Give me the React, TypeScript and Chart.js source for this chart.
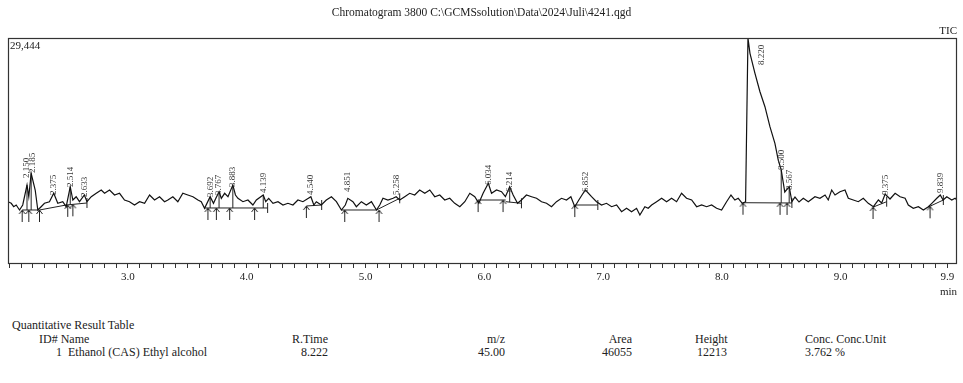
import React, { useEffect, useRef } from 'react';
import { Chart, registerables } from 'chart.js';

Chart.register(...registerables);

const TITLE = 'Chromatogram 3800 C:\\GCMSsolution\\Data\\2024\\Juli\\4241.qgd';
const TRACE_NAME = 'TIC';
const Y_MAX = 29444;
const Y_MAX_LABEL = '29,444';
const X_MIN = 1.99;
const X_MAX = 9.98;
const X_UNIT = 'min';
const TICK_LABELS = ['3.0', '4.0', '5.0', '6.0', '7.0', '8.0', '9.0', '9.9'];

// Retention time (min) and TIC intensity
const TIMES = [
  1.990, 2.017, 2.038, 2.059, 2.087, 2.114, 2.150, 2.165, 2.185, 2.219, 2.241, 2.269, 2.297, 2.339, 2.375,
  2.409, 2.451, 2.480, 2.514, 2.536, 2.564, 2.592, 2.633, 2.655, 2.691, 2.733, 2.775, 2.803, 2.845, 2.887,
  2.929, 2.971, 3.013, 3.055, 3.098, 3.140, 3.182, 3.224, 3.266, 3.308, 3.336, 3.378, 3.420, 3.462, 3.504,
  3.547, 3.589, 3.617, 3.645, 3.692, 3.720, 3.740, 3.767, 3.786, 3.814, 3.842, 3.883, 3.905, 3.926, 3.968,
  4.010, 4.052, 4.081, 4.139, 4.160, 4.185, 4.221, 4.263, 4.305, 4.347, 4.389, 4.431, 4.473, 4.540, 4.565,
  4.586, 4.628, 4.670, 4.713, 4.755, 4.797, 4.830, 4.851, 4.894, 4.923, 4.965, 5.007, 5.050, 5.092, 5.120,
  5.147, 5.189, 5.232, 5.258, 5.288, 5.330, 5.372, 5.414, 5.456, 5.499, 5.541, 5.583, 5.625, 5.667, 5.709,
  5.751, 5.794, 5.836, 5.878, 5.920, 5.954, 5.990, 6.034, 6.061, 6.103, 6.145, 6.178, 6.214, 6.243, 6.280,
  6.313, 6.355, 6.398, 6.440, 6.482, 6.524, 6.566, 6.608, 6.650, 6.692, 6.729, 6.762, 6.796, 6.832, 6.852,
  6.903, 6.945, 6.987, 7.029, 7.072, 7.114, 7.156, 7.198, 7.240, 7.282, 7.310, 7.352, 7.380, 7.409, 7.451,
  7.493, 7.535, 7.577, 7.619, 7.661, 7.703, 7.746, 7.788, 7.830, 7.872, 7.914, 7.956, 7.998, 8.040, 8.077,
  8.110, 8.138, 8.172, 8.200, 8.220, 8.237, 8.279, 8.321, 8.363, 8.405, 8.447, 8.475, 8.500, 8.530, 8.567,
  8.590, 8.616, 8.650, 8.686, 8.728, 8.784, 8.826, 8.869, 8.896, 8.925, 8.953, 8.995, 9.037, 9.065, 9.107,
  9.149, 9.191, 9.233, 9.276, 9.318, 9.346, 9.375, 9.416, 9.459, 9.501, 9.543, 9.570, 9.612, 9.655, 9.697,
  9.739, 9.768, 9.810, 9.839, 9.863, 9.894, 9.936, 9.964, 9.980,
];
const TIC = [
  8022, 7812, 7367, 7590, 6936, 7590, 10207, 8676, 11738, 9553, 6936, 7367, 7812, 8022, 9121,
  7812, 8022, 7367, 9985, 8244, 8676, 8022, 8898, 8022, 8676, 9121, 9553, 9121, 9553, 8898,
  9121, 8244, 8022, 7590, 8022, 7812, 8898, 8244, 8676, 8022, 8244, 8676, 8022, 9121, 8898,
  8676, 8244, 8022, 7158, 8676, 7812, 8467, 9330, 8467, 9121, 8676, 10207, 8898, 8467, 8022,
  8244, 7590, 8244, 8898, 8022, 8467, 7812, 8022, 7590, 7812, 7590, 8244, 8022, 8676, 7590,
  8022, 7590, 8244, 8676, 8022, 6936, 7590, 8467, 8022, 7367, 8022, 7590, 8022, 6936, 7590,
  8467, 8244, 8467, 8676, 8244, 8676, 9121, 8898, 9553, 9121, 9553, 8676, 8898, 8244, 8467,
  7812, 7367, 8022, 9121, 8676, 7812, 9121, 10430, 9121, 9553, 9330, 8676, 9985, 8898, 7812,
  8244, 8898, 8676, 8467, 8022, 7812, 7367, 8022, 8467, 8244, 8676, 7367, 8244, 9121, 9553,
  8676, 8022, 7590, 7812, 7367, 7590, 6713, 7158, 6713, 7158, 6281, 7367, 7158, 7590, 8022,
  8467, 8022, 8467, 8022, 9121, 8467, 8244, 7367, 7590, 7367, 7590, 7158, 6936, 8022, 8898,
  8244, 8467, 7812, 8022, 29444, 27441, 24824, 22416, 20453, 17836, 15664, 13479, 12170, 9291, 9985,
  8022, 8637, 7982, 8467, 8022, 8676, 8467, 8898, 8244, 9553, 8898, 9330, 9553, 8467, 8244,
  8022, 8467, 7812, 7367, 8244, 7852, 9030, 8375, 9121, 8676, 8467, 7590, 7158, 7367, 6936,
  7367, 7812, 8467, 8898, 8244, 8676, 8244, 8467, 8244,
];

// Integration baselines
const BASE_START_T = [2.109, 2.255, 2.480, 3.645, 4.502, 4.797, 5.092, 5.945, 6.180, 6.762, 8.180, 9.276, 9.739];
const BASE_START_C = [6936, 6936, 7590, 7200, 7460, 6936, 6936, 8244, 8022, 7590, 7890, 7330, 7330];
const BASE_END_T = [2.255, 2.480, 2.655, 4.176, 4.631, 5.092, 5.288, 6.180, 6.313, 6.956, 8.590, 9.388, 9.865];
const BASE_END_C = [6936, 7590, 7852, 7200, 7590, 6936, 8467, 8244, 7812, 7590, 7852, 8022, 8244];

// Peak start markers (arrows)
const ARROW_T = [2.109, 2.165, 2.255, 2.493, 2.536, 3.673, 3.744, 3.856, 4.066, 4.502, 4.825, 5.114, 5.948, 6.158, 6.762, 8.178, 8.490, 8.549, 9.273, 9.753];
const ARROW_C = [6936, 6936, 6936, 7610, 7680, 7200, 7200, 7200, 7200, 7460, 6936, 6936, 8244, 8244, 7590, 7890, 7870, 7860, 7330, 7420];

// Peak end markers
const END_T = [2.655, 4.176, 4.631, 5.288, 6.313, 6.956, 8.590, 9.388, 9.865];
const END_C = [7852, 7200, 7590, 8467, 7812, 7590, 7852, 8022, 8244];

// Drop lines
const DROP_T = [2.150, 2.185, 2.514, 3.692, 3.767, 3.883, 4.139, 6.214, 8.500, 8.567];
const DROP_BASE = [6936, 6936, 7640, 7200, 7200, 7200, 7200, 7950, 7870, 7860];
const DROP_TOP = [10207, 11738, 9985, 8676, 9330, 10207, 8898, 9985, 12170, 9985];

// Peak labels
const PEAK_RT = ['2.150', '2.185', '2.375', '2.514', '2.633', '3.692', '3.767', '3.883', '4.139', '4.540',
  '4.851', '5.258', '6.034', '6.214', '6.852', '8.220', '8.500', '8.567', '9.375', '9.839'];
const PEAK_LABEL_T = [2.147, 2.195, 2.373, 2.514, 2.633, 3.692, 3.767, 3.883, 4.139, 4.540,
  4.851, 5.258, 6.040, 6.214, 6.856, 8.338, 8.500, 8.567, 9.375, 9.839];
const PEAK_LABEL_C = [11123, 11777, 8898, 9945, 8637, 8637, 8898, 9945, 9160, 8898,
  9291, 8898, 10207, 9291, 9291, 25910, 12170, 9553, 8898, 9160];

// Quantitative result table
const TABLE_TITLE = 'Quantitative Result Table';
const TABLE_HEAD = ['ID#', 'Name', 'R.Time', 'm/z', 'Area', 'Height', 'Conc.', 'Conc.Unit'];
const TABLE_ROW = ['1', 'Ethanol (CAS) Ethyl alcohol', '8.222', '45.00', '46055', '12213', '3.762', '%'];

const FONT = "'Liberation Serif', 'Times New Roman', serif";
const INK = '#222';

function makeArrow(): HTMLCanvasElement {
  const c = document.createElement('canvas');
  c.width = 9;
  c.height = 30;
  const g = c.getContext('2d')!;
  g.strokeStyle = '#222';
  g.lineWidth = 1;
  g.beginPath();
  g.moveTo(4.5, 15);
  g.lineTo(4.5, 27);
  g.moveTo(1.5, 19);
  g.lineTo(4.5, 15);
  g.lineTo(7.5, 19);
  g.stroke();
  return c;
}

function segments(t1: number[], c1: number[], t2: number[], c2: number[]) {
  const out: { x: number; y: number | null }[] = [];
  for (let i = 0; i < t1.length; i++) {
    out.push({ x: t1[i], y: c1[i] });
    out.push({ x: t2[i], y: c2[i] });
    out.push({ x: t2[i], y: null });
  }
  return out;
}

const boxPlugin = {
  id: 'box',
  afterDatasetsDraw(chart: any) {
    const { ctx, chartArea: a } = chart;
    ctx.save();
    ctx.strokeStyle = '#333';
    ctx.lineWidth = 1.2;
    ctx.strokeRect(a.left + 0.5, a.top + 0.5, a.right - a.left - 1, a.bottom - a.top);
    ctx.restore();
  },
};

const peakLabelPlugin = {
  id: 'peakLabels',
  afterDatasetsDraw(chart: any) {
    const { ctx } = chart;
    const xs = chart.scales.x;
    const ys = chart.scales.y;
    ctx.save();
    ctx.fillStyle = '#3a3a3a';
    ctx.font = `9px ${FONT}`;
    ctx.textAlign = 'left';
    ctx.textBaseline = 'middle';
    for (let i = 0; i < PEAK_RT.length; i++) {
      const x = xs.getPixelForValue(PEAK_LABEL_T[i]);
      const y = ys.getPixelForValue(PEAK_LABEL_C[i]);
      ctx.save();
      ctx.translate(x, y);
      ctx.rotate(-Math.PI / 2);
      ctx.fillText(PEAK_RT[i], 0, 0);
      ctx.restore();
    }
    ctx.restore();
  },
};

function ChromChart() {
  const ref = useRef<HTMLCanvasElement | null>(null);
  useEffect(() => {
    if (!ref.current) return;
    const arrow = makeArrow();
    const trace = TIMES.map((t, i) => ({ x: t, y: TIC[i] }));
    const drops = segments(DROP_T, DROP_BASE, DROP_T, DROP_TOP);
    const chart = new Chart(ref.current, {
      type: 'line',
      data: {
        datasets: [
          {
            label: TRACE_NAME,
            data: trace,
            borderColor: '#111',
            borderWidth: 1.2,
            pointRadius: 0,
            tension: 0,
          },
          {
            label: 'baseline',
            data: segments(BASE_START_T, BASE_START_C, BASE_END_T, BASE_END_C),
            borderColor: '#222',
            borderWidth: 1,
            pointRadius: 0,
            spanGaps: false,
          },
          {
            label: 'drop',
            data: drops,
            borderColor: '#222',
            borderWidth: 1,
            pointRadius: 0,
            spanGaps: false,
          },
          {
            label: 'start',
            type: 'scatter',
            data: ARROW_T.map((t, i) => ({ x: t, y: ARROW_C[i] })),
            pointStyle: arrow,
            pointRadius: 5,
            showLine: false,
          },
          {
            label: 'end',
            type: 'scatter',
            data: END_T.map((t, i) => ({ x: t, y: END_C[i] })),
            pointStyle: 'line',
            rotation: 90,
            pointRadius: 5,
            borderColor: '#222',
            borderWidth: 1,
            showLine: false,
          },
        ] as any,
      },
      options: {
        animation: false,
        responsive: false,
        devicePixelRatio: 1,
        layout: { padding: { left: 8, right: 6, top: 38, bottom: 0 } },
        plugins: { legend: { display: false }, tooltip: { enabled: false }, title: { display: false } },
        scales: {
          x: {
            type: 'linear',
            min: X_MIN,
            max: X_MAX,
            afterFit: (s: any) => {
              s.height = 37;
            },
            afterBuildTicks: (s: any) => {
              const t: { value: number }[] = [];
              for (let i = 20; i <= 99; i++) t.push({ value: i / 10 });
              s.ticks = t;
            },
            ticks: {
              autoSkip: false,
              maxRotation: 0,
              minRotation: 0,
              padding: 3,
              color: INK,
              font: { family: FONT, size: 11 },
              callback: (v: any) => {
                const s = Number(v).toFixed(1);
                return TICK_LABELS.includes(s) ? s : '';
              },
            },
            grid: { display: true, drawOnChartArea: false, drawTicks: true, tickLength: 5, color: '#333' },
            border: { display: false },
            title: {
              display: true,
              text: X_UNIT,
              align: 'end',
              color: INK,
              font: { family: FONT, size: 11 },
              padding: { top: 0, bottom: 1 },
            },
          },
          y: {
            type: 'linear',
            min: 0,
            max: Y_MAX,
            afterFit: (s: any) => {
              s.width = 0;
            },
            afterBuildTicks: (s: any) => {
              s.ticks = [{ value: Y_MAX }];
            },
            ticks: {
              mirror: true,
              padding: 2,
              labelOffset: 8,
              color: INK,
              font: { family: FONT, size: 11 },
              callback: () => Y_MAX_LABEL,
            },
            grid: { display: false },
            border: { display: false },
          },
        },
      } as any,
      plugins: [boxPlugin, peakLabelPlugin],
    });
    return () => chart.destroy();
  }, []);
  return <canvas ref={ref} width={963} height={300} style={{ display: 'block', position: 'absolute', left: 0, top: 0 }} />;
}

const txt = (extra: React.CSSProperties, size = 11): React.CSSProperties => ({
  position: 'absolute',
  fontFamily: FONT,
  fontSize: size,
  lineHeight: '13px',
  color: INK,
  whiteSpace: 'pre',
  ...extra,
});

const TS = 12;

export default function App() {
  return (
    <div style={{ position: 'absolute', left: 0, top: 0, width: 963, height: 383, background: '#fff', overflow: 'hidden' }}>
      <ChromChart />
      <div style={txt({ left: 0, width: 963, top: 6, textAlign: 'center' }, 11.5)}>{TITLE}</div>
      <div style={txt({ right: 6, top: 24 })}>{TRACE_NAME}</div>
      <div style={txt({ left: 12, top: 319 }, TS)}>{TABLE_TITLE}</div>
      <div style={txt({ left: 39, top: 333 }, TS)}>{TABLE_HEAD[0] + ' ' + TABLE_HEAD[1]}</div>
      <div style={txt({ right: 963 - 328, top: 333 }, TS)}>{TABLE_HEAD[2]}</div>
      <div style={txt({ right: 963 - 505, top: 333 }, TS)}>{TABLE_HEAD[3]}</div>
      <div style={txt({ right: 963 - 632, top: 333 }, TS)}>{TABLE_HEAD[4]}</div>
      <div style={txt({ left: 695, top: 333 }, TS)}>{TABLE_HEAD[5]}</div>
      <div style={txt({ left: 805, top: 333 }, TS)}>{TABLE_HEAD[6] + ' ' + TABLE_HEAD[7]}</div>
      <div style={txt({ left: 56, top: 346 }, TS)}>{TABLE_ROW[0] + '  ' + TABLE_ROW[1]}</div>
      <div style={txt({ right: 963 - 328, top: 346 }, TS)}>{TABLE_ROW[2]}</div>
      <div style={txt({ right: 963 - 505, top: 346 }, TS)}>{TABLE_ROW[3]}</div>
      <div style={txt({ right: 963 - 632, top: 346 }, TS)}>{TABLE_ROW[4]}</div>
      <div style={txt({ left: 697, top: 346 }, TS)}>{TABLE_ROW[5]}</div>
      <div style={txt({ left: 805, top: 346 }, TS)}>{TABLE_ROW[6] + ' ' + TABLE_ROW[7]}</div>
    </div>
  );
}
